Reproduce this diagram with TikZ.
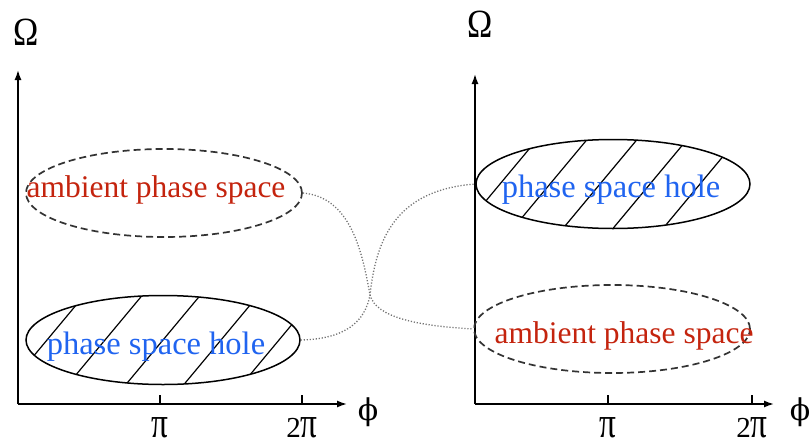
\documentclass[tikz,border=0pt]{standalone}
\usepackage{fontspec}
\setmainfont{Liberation Serif}
\newfontfamily\dvs{DejaVu Serif}
\usetikzlibrary{arrows.meta,shapes.geometric}
\definecolor{ambred}{RGB}{196,36,14}
\definecolor{holeblue}{RGB}{32,100,240}
\newcommand{\bigpi}{\scalebox{1.15}[1.5]{π}}
\tikzset{
  axis/.style={line width=1.5pt,-{Latex[length=10pt,width=7pt]}},
  tick/.style={line width=1.3pt},
  ambell/.style={ellipse,draw=black!80,line width=1.7pt,dash pattern=on 7pt off 4pt,minimum width=276pt,minimum height=88pt,inner sep=0pt},
  holeell/.style={ellipse,draw=black,line width=1.5pt,minimum width=274pt,minimum height=89pt,inner sep=0pt},
  hatch/.style={line width=1.2pt,black},
  link/.style={line width=1.3pt,black!55,dash pattern=on 1.2pt off 1.8pt},
  ambtxt/.style={text=ambred,font=\fontsize{31.5}{32}\selectfont,inner sep=0pt,anchor=base},
  holetxt/.style={text=holeblue,font=\fontsize{32.5}{33}\selectfont,inner sep=0pt,anchor=base},
  ticklab/.style={font=\fontsize{29}{29}\selectfont,inner sep=0pt,anchor=base},
  omlab/.style={font=\fontsize{40}{40}\selectfont,inner sep=0pt},
  philab/.style={font=\fontsize{30}{30}\selectfont,inner sep=0pt}
}
\begin{document}
\begin{tikzpicture}[x=1pt,y=-1pt]
\useasboundingbox (0,0) rectangle (811,442);
% ---------- left panel ----------
\coordinate (Lo) at (18,404);
\coordinate (Ly) at (18,70);
\coordinate (Lx) at (347,404);
\draw[axis] (Lo) -- (Ly);
\draw[axis] (Lo) -- (Lx);
\coordinate (Lt1) at (160,404);
\coordinate (Lt2) at (302,404);
\draw[tick] (Lt1) -- ++(0,-9);
\draw[tick] (Lt2) -- ++(0,-9);
\node[ticklab] (Lpi) at (160,437) {\bigpi};
\node[ticklab] (L2pi) at (302,437) {2\bigpi};
\node[omlab] (LOm) at (26,32) {\scalebox{0.85}[1]{Ω}};
\node[philab] (Lphi) at (368,412) {\dvs ϕ};
% hole ellipse (left, bottom)
\begin{scope}
  \clip (163,340) ellipse [x radius=137, y radius=44.5];
  \foreach \x in {47,105,163,221,279}{
    \draw[hatch] (\x-50,400) -- (\x+50,280);
  }
\end{scope}
\node[holeell] (Lhole) at (163,340) {};
\node[holetxt] (Lholet) at (156,354) {phase space hole};
% ambient ellipse (left, top)
\node[ambell] (Lamb) at (164,193) {};
\node[ambtxt] (Lambt) at (156,197) {ambient phase space};
% ---------- right panel ----------
\coordinate (Ro) at (475,404);
\coordinate (Ry) at (475,74);
\coordinate (Rx) at (774,404);
\draw[axis] (Ro) -- (Ry);
\draw[axis] (Ro) -- (Rx);
\coordinate (Rt1) at (608,404);
\coordinate (Rt2) at (752,404);
\draw[tick] (Rt1) -- ++(0,-9);
\draw[tick] (Rt2) -- ++(0,-9);
\node[ticklab] (Rpi) at (608,437) {\bigpi};
\node[ticklab] (R2pi) at (752,437) {2\bigpi};
\node[omlab] (ROm) at (480,24) {\scalebox{0.85}[1]{Ω}};
\node[philab] (Rphi) at (800,412) {\dvs ϕ};
% hole ellipse (right, top)
\begin{scope}
  \clip (613,184) ellipse [x radius=137, y radius=44];
  \foreach \x in {500,550,600,650,700}{
    \draw[hatch] (\x-50,244) -- (\x+50,124);
  }
\end{scope}
\node[holeell] (Rhole) at (613,184) {};
\node[holetxt] (Rholet) at (611,197) {phase space hole};
% ambient ellipse (right, bottom)
\node[ambell] (Ramb) at (612,329) {};
\node[ambtxt] (Rambt) at (624,343) {ambient phase space};
% ---------- dotted links ----------
\coordinate (X) at (370,295);
\draw[link] (Lamb.east) .. controls (350,197) and (362,250) .. (X)
            .. controls (376,318) and (420,326) .. (Ramb.west);
\draw[link] (Lhole.east) .. controls (345,339) and (365,322) .. (X)
            .. controls (376,240) and (395,190) .. (Rhole.west);
\end{tikzpicture}
\end{document}
